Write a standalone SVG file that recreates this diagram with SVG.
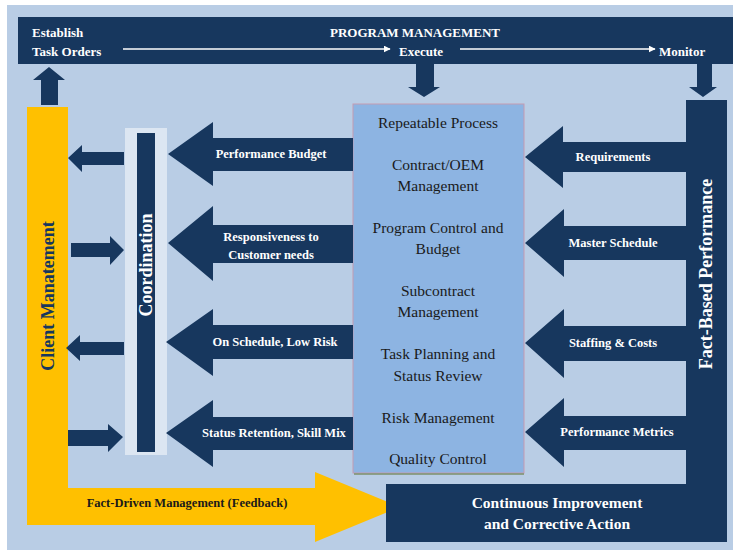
<svg xmlns="http://www.w3.org/2000/svg" width="733" height="550" viewBox="0 0 733 550">
<defs>
<marker id="ah" viewBox="0 0 10 10" refX="9" refY="5" markerWidth="7" markerHeight="7" orient="auto" markerUnits="userSpaceOnUse">
<path d="M0,0 L10,5 L0,10 z" fill="#ffffff"/>
</marker>
<style>
.navy{fill:#17375e}
.wt{font-family:"Liberation Serif","DejaVu Serif",serif;font-weight:bold;fill:#ffffff}
.dk{font-family:"Liberation Serif","DejaVu Serif",serif;fill:#1a1a1a}
.lbl{font-size:12.5px;text-anchor:middle}
.box{font-size:15.5px;text-anchor:middle}
.top{font-size:13px}
</style>
</defs>
<rect x="0" y="0" width="733" height="550" fill="#ffffff"/>
<rect x="7" y="5" width="726" height="545" fill="#b9cde5"/>

<g id="program-management">
<rect x="18" y="17" width="715" height="47" class="navy"/>
<text class="wt top" x="32" y="37">Establish</text>
<text class="wt top" x="32" y="56">Task Orders</text>
<text class="wt top" x="415" y="37" text-anchor="middle">PROGRAM MANAGEMENT</text>
<text class="wt top" x="399" y="56">Execute</text>
<text class="wt top" x="659" y="56">Monitor</text>
</g>

<g id="client-management">
<polygon points="27,107 68,107 68,488 315,488 315,472 400,507 315,542 315,525 27,525" fill="#ffc000"/>
<text x="48" y="296" font-family="Liberation Serif, DejaVu Serif, serif" font-weight="bold" font-size="18" fill="#17375e" text-anchor="middle" dominant-baseline="central" transform="rotate(-90 48 296)">Client Manatement</text>
<text x="187" y="507" font-family="Liberation Serif, DejaVu Serif, serif" font-weight="bold" font-size="12.5" fill="#1a1a1a" text-anchor="middle">Fact-Driven Management (Feedback)</text>
</g>

<g id="coordination">
<rect x="125" y="128" width="42" height="327" fill="#dce6f2"/>
<rect x="137" y="133" width="18" height="319" class="navy"/>
<text class="wt" x="146" y="265" font-size="18" text-anchor="middle" dominant-baseline="central" transform="rotate(-90 146 265)">Coordination</text>
</g>

<g id="process-box">
<rect x="353" y="104" width="171" height="369" fill="#8db4e2" stroke="#c49bb2" stroke-width="1"/>
<line x1="354" y1="474" x2="524" y2="474" stroke="#7d8f6a" stroke-width="1.5"/>
<text class="dk box" x="438" y="128">Repeatable Process</text>
<text class="dk box" x="438" y="170">Contract/OEM</text>
<text class="dk box" x="438" y="191">Management</text>
<text class="dk box" x="438" y="233">Program Control and</text>
<text class="dk box" x="438" y="254">Budget</text>
<text class="dk box" x="438" y="296">Subcontract</text>
<text class="dk box" x="438" y="317">Management</text>
<text class="dk box" x="438" y="359">Task Planning and</text>
<text class="dk box" x="438" y="381">Status Review</text>
<text class="dk box" x="438" y="423">Risk Management</text>
<text class="dk box" x="438" y="464">Quality Control</text>
</g>

<g id="fact-based-performance">
<polygon points="686,100 727,100 727,542 386,542 386,484 686,484" class="navy"/>
<text class="wt" x="706" y="274" font-size="18" text-anchor="middle" dominant-baseline="central" transform="rotate(-90 706 274)">Fact-Based Performance</text>
<text class="wt" x="557" y="508" font-size="15.5" text-anchor="middle">Continuous Improvement</text>
<text class="wt" x="557" y="529" font-size="15.5" text-anchor="middle">and Corrective Action</text>
</g>

<g id="connectors">
<line x1="123" y1="49" x2="390" y2="49" stroke="#ffffff" stroke-width="1.5" marker-end="url(#ah)"/>
<line x1="460" y1="49" x2="655" y2="49" stroke="#ffffff" stroke-width="1.5" marker-end="url(#ah)"/>
<polygon class="navy" points="49,67 65,80 58,80 58,105 41,105 41,80 33,80"/>
<polygon class="navy" points="424,97 440,87 434,87 434,64 416,64 416,87 408,87"/>
<polygon class="navy" points="703,97 717,87 712,87 712,64 697,64 697,87 689,87"/>

<polygon class="navy" points="525,157 563,126 563,142 686,142 686,172 563,172 563,188"/>
<polygon class="navy" points="525,243 564,209 564,226 686,226 686,260 564,260 564,277"/>
<polygon class="navy" points="525,343 564,309 564,326 686,326 686,361 564,361 564,378"/>
<polygon class="navy" points="525,432 564,398 564,416 686,416 686,450 564,450 564,467"/>
<text class="wt lbl" x="613" y="161">Requirements</text>
<text class="wt lbl" x="613" y="247">Master Schedule</text>
<text class="wt lbl" x="613" y="347">Staffing &amp; Costs</text>
<text class="wt lbl" x="617" y="436">Performance Metrics</text>

<polygon class="navy" points="168,154 213,122 213,138 353,138 353,171 213,171 213,186"/>
<polygon class="navy" points="168,243 213,206 213,225 353,225 353,263 213,263 213,281"/>
<polygon class="navy" points="166,342 213,309 213,325 353,325 353,359 213,359 213,376"/>
<polygon class="navy" points="166,433 213,400 213,417 353,417 353,450 213,450 213,467"/>
<text class="wt lbl" x="271" y="158">Performance Budget</text>
<text class="wt lbl" x="271" y="241">Responsiveness to</text>
<text class="wt lbl" x="271" y="259">Customer needs</text>
<text class="wt lbl" x="275" y="346">On Schedule, Low Risk</text>
<text class="wt lbl" x="274" y="437">Status Retention, Skill Mix</text>

<polygon class="navy" points="68,158 82,145 82,152 124,152 124,165 82,165 82,172"/>
<polygon class="navy" points="124,250 110,236 110,243 71,243 71,257 110,257 110,265"/>
<polygon class="navy" points="66,348 80,335 80,342 124,342 124,355 80,355 80,361"/>
<polygon class="navy" points="123,437 108,424 108,430 68,430 68,446 108,446 108,452"/>
</g>
</svg>
